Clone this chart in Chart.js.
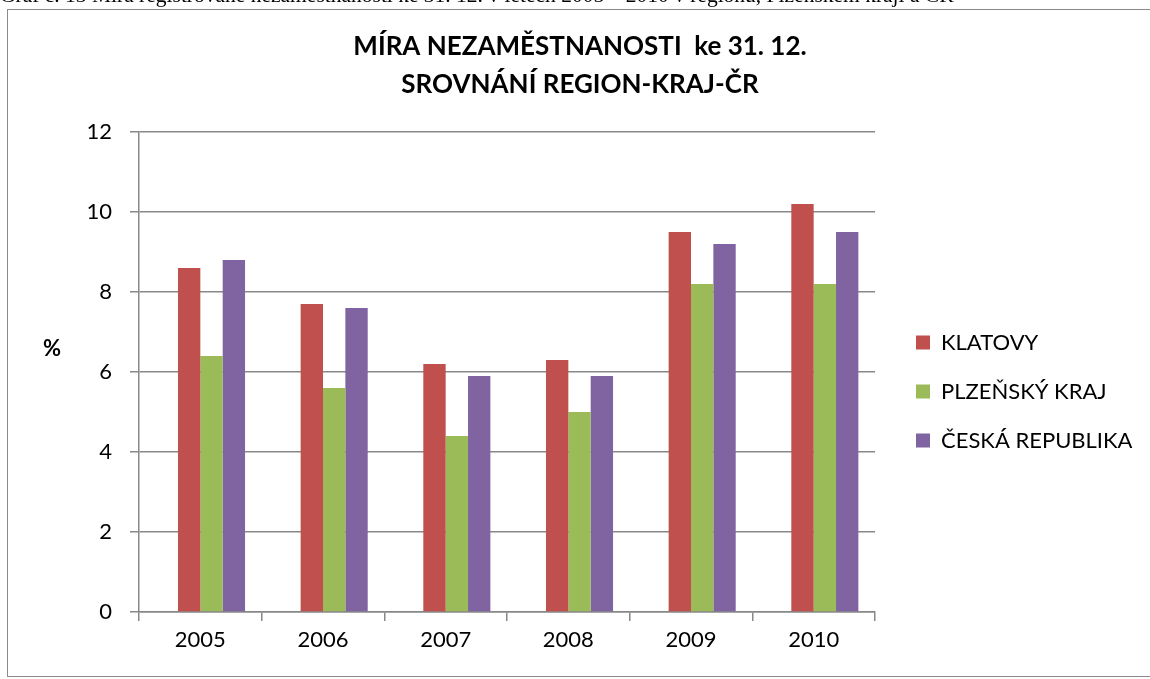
<!DOCTYPE html>
<html>
<head>
<meta charset="utf-8">
<script src="https://cdn.jsdelivr.net/npm/chart.js@4"></script>
<style>
  html, body { margin: 0; padding: 0; background: #fff; }
  #caption {
    position: absolute; left: 0; top: -15px; white-space: nowrap;
    font-family: "Liberation Serif", serif; font-size: 21.5px; line-height: 21.5px; color: #000;
    z-index: 2;
  }
  #frame {
    position: absolute; left: 7px; top: 9px; width: 1160px; height: 666px;
    border: 1px solid #8a8a8a; z-index: 0;
  }
  #wrap { position: absolute; left: 0; top: 0; width: 1150px; height: 679px; z-index: 1; }
</style>
</head>
<body>
<div id="caption">Graf č. 13 Míra registrované nezaměstnanosti ke 31. 12. v letech 2005 – 2010 v regionu, Plzeňském kraji a ČR</div>
<div id="frame"></div>
<div id="wrap"><canvas id="chart" width="1150" height="679"></canvas></div>
<script>
const years = ['2005', '2006', '2007', '2008', '2009', '2010'];
const klatovy = [8.6, 7.7, 6.2, 6.3, 9.5, 10.2];
const plzenskyKraj = [6.4, 5.6, 4.4, 5.0, 8.2, 8.2];
const ceskaRepublika = [8.8, 7.6, 5.9, 5.9, 9.2, 9.5];
const yTicks = [0, 2, 4, 6, 8, 10, 12];

const FONT = 'Lato';
const legendSize = 22;
const legendPad = 27;
const legendBox = 14;

// plot ends at x=875, legend boxes start at x=916
const plotRight = 875;
const boxLeft = 916;
const titleCenter = 580;
const mctx = document.createElement('canvas').getContext('2d');
mctx.font = legendSize + 'px ' + FONT;
const widest = Math.max(...['KLATOVY', 'PLZEŇSKÝ KRAJ', 'ČESKÁ REPUBLIKA'].map(t => mctx.measureText(t).width));
const legendW = legendPad + legendBox + legendSize / 2 + widest + 10;
const gapW = boxLeft - legendPad - plotRight;
const rightPad = 1150 - plotRight - legendW;

const shiftBoxes = {
    id: 'shiftBoxes',
    afterLayout(chart) {
        chart.legend.left += gapW;
        chart.legend.right += gapW;
        const t = chart.titleBlock;
        const d = (t.left + t.right) / 2 - titleCenter;
        t.left -= d;
        t.right -= d;
    },
};

const percentLabel = {
    id: 'percentLabel',
    afterDraw(chart) {
        const ctx = chart.ctx;
        ctx.save();
        ctx.font = 'bold 22px ' + FONT;
        ctx.fillStyle = '#000';
        ctx.textAlign = 'center';
        ctx.textBaseline = 'middle';
        ctx.fillText('%', 52, (chart.chartArea.top + chart.chartArea.bottom) / 2 - 23);
        ctx.restore();
    },
};

new Chart(document.getElementById('chart'), {
    type: 'bar',
    data: {
        labels: years,
        datasets: [
            { label: '', data: years.map(() => null), backgroundColor: 'rgba(0,0,0,0)' },
            { label: 'KLATOVY', data: klatovy, backgroundColor: '#C0504D' },
            { label: 'PLZEŇSKÝ KRAJ', data: plzenskyKraj, backgroundColor: '#9BBB59' },
            { label: 'ČESKÁ REPUBLIKA', data: ceskaRepublika, backgroundColor: '#8064A2' },
        ],
    },
    options: {
        responsive: false,
        animation: false,
        layout: { padding: { left: 75, right: rightPad, top: 0, bottom: 0 } },
        datasets: { bar: { categoryPercentage: 0.729, barPercentage: 1.0, borderWidth: 0 } },
        scales: {
            x: {
                grid: { offset: true, drawOnChartArea: false, drawTicks: true, tickLength: 9, color: '#888', lineWidth: 1.5 },
                border: { color: '#888', width: 1.5 },
                ticks: { color: '#000', font: { family: FONT, size: 22 }, padding: 6 },
                afterFit: s => { s.height = 67; },
            },
            y: {
                min: 0,
                max: 12,
                afterBuildTicks: s => { s.ticks = yTicks.map(v => ({ value: v })); },
                grid: { color: '#888', lineWidth: 1.5, tickLength: 9 },
                border: { color: '#888', width: 1.5 },
                ticks: { color: '#000', font: { family: FONT, size: 22 }, padding: 18 },
                afterFit: s => { s.width = 64; },
            },
        },
        plugins: {
            title: {
                display: true,
                text: ['MÍRA NEZAMĚSTNANOSTI  ke 31. 12.', 'SROVNÁNÍ REGION-KRAJ-ČR'],
                color: '#000',
                font: { family: FONT, size: 26, weight: 'bold', lineHeight: 38 / 26 },
                padding: { top: 28, bottom: 28 },
            },
            legend: {
                position: 'right',
                fullSize: false,
                title: { display: true, text: ' ', font: { size: 10, lineHeight: 1 }, padding: { top: 0, bottom: 29 } },
                labels: {
                    color: '#000',
                    font: { family: FONT, size: legendSize },
                    boxWidth: legendBox,
                    boxHeight: legendBox,
                    padding: legendPad,
                    filter: item => item.text !== '',
                },
            },
            tooltip: { enabled: false },
        },
    },
    plugins: [shiftBoxes, percentLabel],
});
</script>
</body>
</html>
